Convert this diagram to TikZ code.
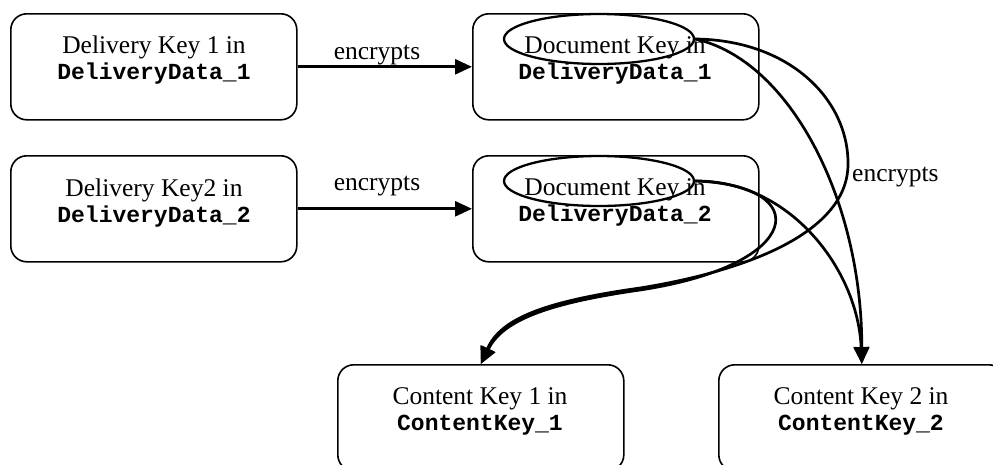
\documentclass[tikz,border=0pt]{standalone}
\usepackage{fontspec}
\setmainfont{Liberation Serif}
\setmonofont{Liberation Mono}
\usetikzlibrary{arrows.meta,shapes.geometric}
\newcommand{\kcode}[1]{{\ttfamily\bfseries\fontsize{23}{26}\selectfont #1}}
\begin{document}
\begin{tikzpicture}[x=1pt,y=-1pt,
  box/.style={draw, rounded corners=16pt, line width=1.6pt, minimum width=286pt, minimum height=106pt, inner sep=0pt, anchor=north west},
  lbl/.style={align=center, inner sep=0pt, anchor=north, font=\fontsize{25.5}{26}\selectfont},
  keyell/.style={draw, ellipse, line width=2.3pt, minimum width=190pt, minimum height=50pt, inner sep=0pt},
  conn/.style={line width=2.7pt, -{Triangle[length=17pt,width=15pt]}},
  edgelbl/.style={font=\fontsize{25.5}{26}\selectfont, inner sep=0pt, anchor=base}
]
\useasboundingbox (0,0) rectangle (993,464);
\clip (0,0) rectangle (993,464);
\fill[white] (0,0) rectangle (993,464);

% boxes
\node[box] (a1) at (10,13) {};
\node[box] (a2) at (10,155) {};
\node[box] (b1) at (472,13) {};
\node[box] (b2) at (472,155) {};
\node[box] (c1) at (337,364) {};
\node[box] (c2) at (718,364) {};

% texts
\node[lbl] (ta1) at (154,36) {Delivery Key 1 in\\\kcode{DeliveryData\_1}};
\node[lbl] (ta2) at (154,178.5) {Delivery Key2 in\\\kcode{DeliveryData\_2}};
\node[lbl] (tb1) at (615,36) {Document Key in\\\kcode{DeliveryData\_1}};
\node[lbl] (tb2) at (615,178.5) {Document Key in\\\kcode{DeliveryData\_2}};
\node[lbl] (tc1) at (480,387.5) {Content Key 1 in\\\kcode{ContentKey\_1}};
\node[lbl] (tc2) at (861,387.5) {Content Key 2 in\\\kcode{ContentKey\_2}};

% ellipses
\node[keyell] (e1) at (599,39) {};
\node[keyell] (e2) at (599,181) {};

% horizontal arrows
\draw[conn] (a1.east) -- (b1.west);
\draw[conn] (a2.east) -- (b2.west);
\node[edgelbl] (l1) at (377,59) {encrypts};
\node[edgelbl] (l2) at (377,190) {encrypts};

% curved arrows
\draw[conn] (e1.east) .. controls (790,60) and (862,200) .. (c2.north);
\draw[conn] (e1.east) .. controls (790,40) and (849,100) .. (848,165)
  .. controls (847,235) and (740,272) .. (640,288)
  .. controls (540,302) and (500,320) .. (c1.north);
\draw[conn] (e2.east) .. controls (815,185) and (805,265) .. (640,290)
  .. controls (542,304) and (502,322) .. (c1.north);
\draw[conn] (e2.east) .. controls (790,180) and (858,270) .. (c2.north);
\node[edgelbl, anchor=base west] (l3) at (852,181) {encrypts};
\end{tikzpicture}
\end{document}
